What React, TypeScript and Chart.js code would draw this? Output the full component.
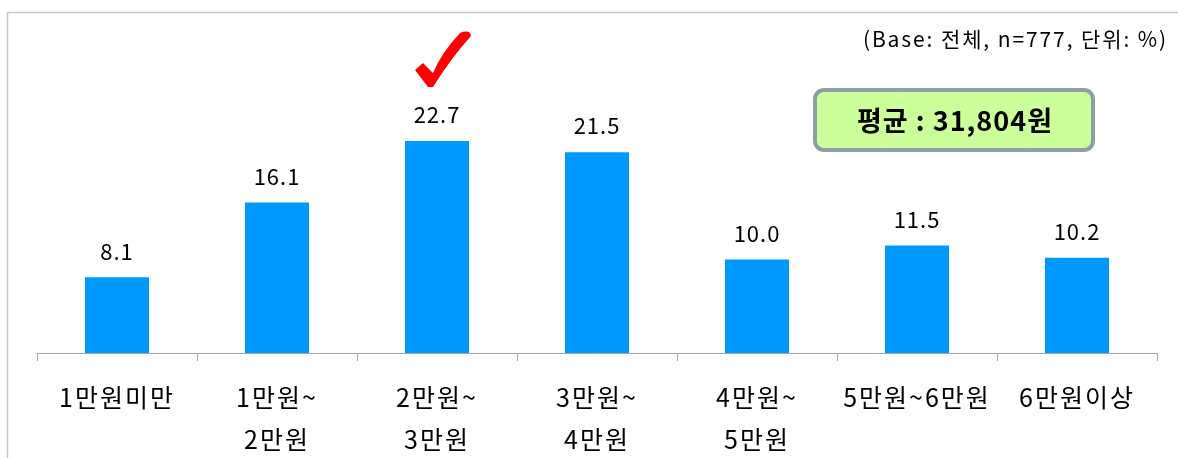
import { useEffect, useRef } from 'react';
import { Chart, registerables } from 'chart.js';

Chart.register(...registerables);

const categories: string[][] = [
  ['1만원미만'],
  ['1만원~', '2만원'],
  ['2만원~', '3만원'],
  ['3만원~', '4만원'],
  ['4만원~', '5만원'],
  ['5만원~6만원'],
  ['6만원이상'],
];
const values = [8.1, 16.1, 22.7, 21.5, 10.0, 11.5, 10.2];
const baseNote = '(Base: 전체, n=777, 단위: %)';
const averageLabel = '평균 : 31,804원';
const highlightIndex = 2;

const FONT = '"Noto Sans CJK KR", "Noto Sans", sans-serif';

const overlayPlugin = {
  id: 'overlay',
  beforeDraw(chart: any) {
    const ctx = chart.ctx;
    ctx.save();
    ctx.strokeStyle = '#c8c8c8';
    ctx.lineWidth = 1.5;
    ctx.beginPath();
    ctx.moveTo(7.5, chart.height);
    ctx.lineTo(7.5, 12.5);
    ctx.lineTo(chart.width, 12.5);
    ctx.stroke();
    ctx.restore();
    // letter spacing for axis tick labels
    ctx.letterSpacing = '2px';
  },
  afterDatasetsDraw(chart: any) {
    const ctx = chart.ctx;
    const meta = chart.getDatasetMeta(0);
    ctx.save();
    // value labels
    ctx.letterSpacing = '1px';
    ctx.fillStyle = '#000';
    ctx.font = `22px ${FONT}`;
    ctx.textAlign = 'center';
    ctx.textBaseline = 'middle';
    meta.data.forEach((bar: any, i: number) => {
      ctx.fillText(values[i].toFixed(1), bar.x, bar.y - 26);
    });

    // check mark above highlighted bar
    const hb = meta.data[highlightIndex];
    const cx = hb.x;
    const cy = hb.y - 27;
    ctx.fillStyle = '#ff0000';
    ctx.beginPath();
    ctx.moveTo(cx - 22, cy - 44);
    ctx.lineTo(cx - 14, cy - 51);
    ctx.lineTo(cx - 4, cy - 41);
    ctx.quadraticCurveTo(cx + 5, cy - 62, cx + 23, cy - 81);
    ctx.quadraticCurveTo(cx + 33, cy - 85, cx + 34, cy - 78);
    ctx.quadraticCurveTo(cx + 14, cy - 56, cx - 4, cy - 27);
    ctx.lineTo(cx - 9, cy - 27);
    ctx.closePath();
    ctx.fill();

    // base note
    ctx.letterSpacing = '1.9px';
    ctx.fillStyle = '#000';
    ctx.font = `21px ${FONT}`;
    ctx.textAlign = 'right';
    ctx.textBaseline = 'middle';
    ctx.fillText(baseNote, 1168, 39);

    // average box
    const bx = 815, by = 90, bw = 278, bh = 60, r = 9;
    ctx.beginPath();
    ctx.roundRect(bx, by, bw, bh, r);
    ctx.fillStyle = '#ccff99';
    ctx.fill();
    ctx.lineWidth = 4;
    ctx.strokeStyle = '#8a9fa6';
    ctx.stroke();
    ctx.letterSpacing = '1px';
    ctx.fillStyle = '#000';
    ctx.font = `bold 27px ${FONT}`;
    ctx.textAlign = 'center';
    ctx.textBaseline = 'middle';
    ctx.fillText(averageLabel, bx + bw / 2 + 1, by + bh / 2 + 1);
    ctx.restore();
  },
};

export default function App() {
  const ref = useRef<HTMLCanvasElement>(null);
  useEffect(() => {
    document.body.style.margin = '0';
    const chart = new Chart(ref.current as HTMLCanvasElement, {
      type: 'bar',
      data: {
        labels: categories,
        datasets: [
          {
            data: values,
            backgroundColor: '#0099ff',
            borderWidth: 0,
            categoryPercentage: 1,
            barPercentage: 0.4,
          },
        ],
      },
      options: {
        animation: false,
        responsive: false,
        maintainAspectRatio: false,
        layout: { padding: { left: 37, right: 21, top: 26, bottom: 0 } },
        plugins: { legend: { display: false }, tooltip: { enabled: false } },
        scales: {
          y: { display: false, min: 0, max: 35 },
          x: {
            afterFit: (scale: any) => {
              scale.height = 105;
            },
            border: { display: true, color: '#a6a6a6', width: 1 },
            grid: {
              offset: true,
              drawOnChartArea: false,
              drawTicks: true,
              tickLength: 8,
              tickColor: '#a6a6a6',
              color: '#a6a6a6',
            },
            ticks: {
              color: '#000',
              padding: 15,
              maxRotation: 0,
              autoSkip: false,
              font: { family: FONT, size: 25, lineHeight: 1.68 },
            },
          },
        },
      },
      plugins: [overlayPlugin],
    });
    return () => chart.destroy();
  }, []);
  return <canvas ref={ref} width={1178} height={458} style={{ display: 'block' }} />;
}
